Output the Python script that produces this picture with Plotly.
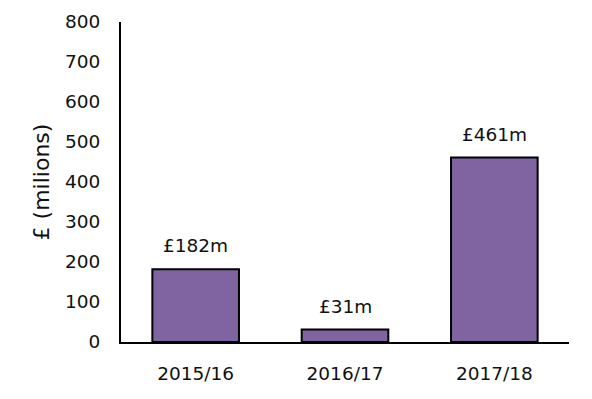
import plotly.graph_objects as go

categories = ["2015/16", "2016/17", "2017/18"]
values = [182, 31, 461]
labels = ["£182m", "£31m", "£461m"]
y_ticks = [0, 100, 200, 300, 400, 500, 600, 700, 800]

FONT = "DejaVu Sans"

fig = go.Figure()
fig.add_trace(go.Bar(
    x=categories, y=values,
    marker=dict(color="#8064A2", line=dict(color="black", width=2)),
    hoverinfo="skip",
))
for c, v, t in zip(categories, values, labels):
    fig.add_annotation(x=c, y=v, text=t, showarrow=False, yanchor="bottom",
                       yshift=11, font=dict(family=FONT, size=18.5, color="#111"))

fig.update_layout(
    width=592, height=399,
    margin=dict(l=113, r=31, t=14, b=65, autoexpand=False),
    paper_bgcolor="white", plot_bgcolor="white",
    bargap=0.42, showlegend=False,
    font=dict(family=FONT, size=18.5, color="#111"),
)
fig.update_xaxes(showline=True, linecolor="black", linewidth=2, ticks="",
                 showgrid=False, ticklabelstandoff=14, automargin=False)
fig.update_yaxes(range=[0, 800], tickvals=y_ticks, showline=True, linecolor="black",
                 linewidth=2, ticks="", showgrid=False, zeroline=False,
                 ticklabelstandoff=15, automargin=False,
                 title=dict(text="£ (milions)", standoff=9))
fig.write_html("out.html")
